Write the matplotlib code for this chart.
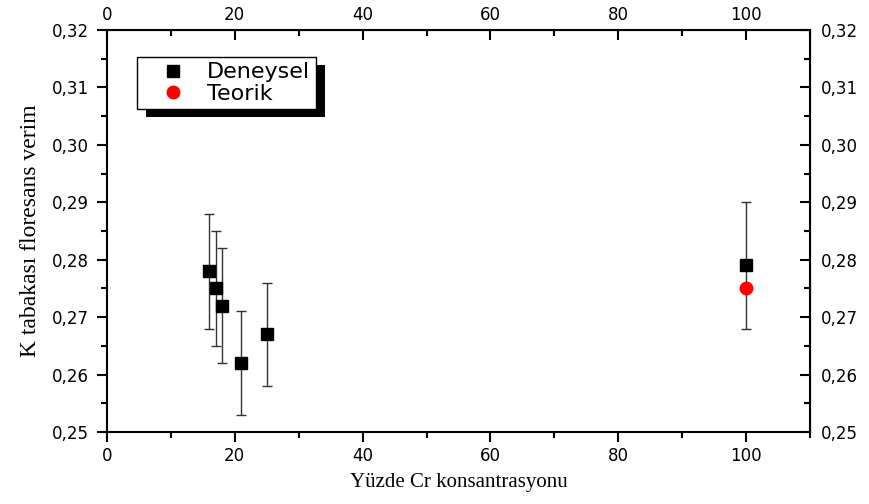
import numpy as np
import matplotlib.pyplot as plt
from matplotlib.ticker import FuncFormatter, MultipleLocator
from matplotlib.patches import Rectangle
from matplotlib.lines import Line2D

# Deneysel veriler
deneyselX = [16, 17, 18, 21, 25, 100]
deneyselY = [0.278, 0.275, 0.272, 0.262, 0.267, 0.279]
deneyselHata = [0.010, 0.010, 0.010, 0.009, 0.009, 0.011]

# Teorik deger
teorikX = [100]
teorikY = [0.275]

plt.rcParams['font.family'] = ['DejaVu Sans']

fig = plt.figure(figsize=(8.69, 5.04), dpi=100)
ax = fig.add_axes([0.1231, 0.1429, 0.809, 0.7976])

ax.errorbar(deneyselX, deneyselY, yerr=deneyselHata, fmt='s', color='black',
            ecolor='#333333', elinewidth=1.0, capsize=3.5, capthick=1.0,
            markersize=8.5, zorder=3)
ax.plot(teorikX, teorikY, 'o', color='red', markersize=9, zorder=4)

ax.set_xlim(0, 110)
ax.set_ylim(0.25, 0.32)

virgul = FuncFormatter(lambda v, p: ('%.2f' % v).replace('.', ','))
ax.yaxis.set_major_formatter(virgul)
ax.xaxis.set_major_locator(MultipleLocator(20))
ax.xaxis.set_minor_locator(MultipleLocator(10))
ax.yaxis.set_major_locator(MultipleLocator(0.01))
ax.yaxis.set_minor_locator(MultipleLocator(0.005))

for s in ax.spines.values():
    s.set_linewidth(1.5)

# Alt ve sol eksen: disari, ust ve sag eksen: iceri
ax.tick_params(axis='both', which='both', labelsize=12, width=1.5)
ax.tick_params(which='major', length=7)
ax.tick_params(which='minor', length=4)
ax.tick_params(axis='x', which='both', direction='out', top=False, pad=3.5)
ax.tick_params(axis='y', which='both', direction='out', right=False, pad=6)

axTop = ax.secondary_xaxis('top')
axTop.xaxis.set_major_locator(MultipleLocator(20))
axTop.xaxis.set_minor_locator(MultipleLocator(10))
axTop.tick_params(which='both', direction='in', labelsize=12, width=1.5, pad=4)
axTop.tick_params(which='major', length=7)
axTop.tick_params(which='minor', length=4)

axRight = ax.secondary_yaxis('right')
axRight.yaxis.set_major_locator(MultipleLocator(0.01))
axRight.yaxis.set_minor_locator(MultipleLocator(0.005))
axRight.yaxis.set_major_formatter(virgul)
axRight.tick_params(which='both', direction='in', labelsize=12, width=1.5, pad=8)
axRight.tick_params(which='major', length=7)
axRight.tick_params(which='minor', length=4)

ax.set_xlabel('Yüzde Cr konsantrasyonu', family='Liberation Serif', fontsize=15, labelpad=6)
ax.set_ylabel('K tabakası floresans verim', family='Liberation Serif', fontsize=17, labelpad=8)

tutamaclar = [
    Line2D([], [], marker='s', color='black', linestyle='none', markersize=8.5),
    Line2D([], [], marker='o', color='red', linestyle='none', markersize=9),
]
leg = ax.legend(tutamaclar, ['Deneysel', 'Teorik'], loc='upper left',
                bbox_to_anchor=(0.0427, 0.933), borderaxespad=0, fontsize=16,
                frameon=True, fancybox=False, edgecolor='black', framealpha=1,
                borderpad=0.25, handletextpad=0.2, labelspacing=0.05, handlelength=2.7)
leg.get_frame().set_linewidth(1.0)
leg.set_zorder(6)

# Golge
fig.canvas.draw()
bb = leg.get_window_extent()
golge = Rectangle((bb.x0 + 9, bb.y0 - 8), bb.width, bb.height, transform=None,
                  facecolor='black', edgecolor='none', zorder=5)
ax.add_artist(golge)

fig.savefig('out.png', dpi=100)
